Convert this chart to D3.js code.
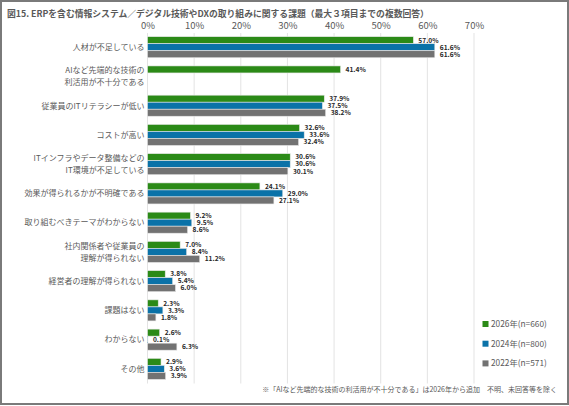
<!DOCTYPE html>
<html><head><meta charset="utf-8">
<script src="https://cdn.jsdelivr.net/npm/d3@7"></script>
<style>body{margin:0;background:#fff}svg{display:block}text{font-family:"Noto Sans CJK JP","Noto Sans",sans-serif}</style>
</head><body><svg id="c" width="569" height="406"></svg>
<script>
const title = "図15. ERPを含む情報システム／デジタル技術やDXの取り組みに関する課題（最大３項目までの複数回答）";
const categories = [
  ["人材が不足している"],
  ["AIなど先端的な技術の","利活用が不十分である"],
  ["従業員のITリテラシーが低い"],
  ["コストが高い"],
  ["ITインフラやデータ整備などの","IT環境が不足している"],
  ["効果が得られるかが不明確である"],
  ["取り組むべきテーマがわからない"],
  ["社内関係者や従業員の","理解が得られない"],
  ["経営者の理解が得られない"],
  ["課題はない"],
  ["わからない"],
  ["その他"]
];
const seriesNames = ["2026年(n=660)","2024年(n=800)","2022年(n=571)"];
const v2026 = [57.0,41.4,37.9,32.6,30.6,24.1,9.2,7.0,3.8,2.3,2.6,2.9];
const v2024 = [61.6,null,37.5,33.6,30.6,29.0,9.5,8.4,5.4,3.3,0.1,3.6];
const v2022 = [61.6,null,38.2,32.4,30.1,27.1,8.6,11.2,6.0,1.8,6.3,3.9];
const colors = ["#2b8a17","#0a72a8","#727272"];
const xTicks = [0,10,20,30,40,50,60,70];
const footnote = "※「AIなど先端的な技術の利活用が不十分である」は2026年から追加　不明、未回答等を除く";

const svg = d3.select("#c");
svg.append("rect").attr("x",1).attr("y",1).attr("width",567).attr("height",403)
  .attr("fill","#fff").attr("stroke","#7a7a7a").attr("stroke-width",2);

svg.append("text").attr("x",7).attr("y",17).attr("font-size",8.8).attr("font-weight","bold")
  .attr("fill","#595959").text(title);

const x = d3.scaleLinear().domain([0,70]).range([147.5,474]);
const idx = d3.range(categories.length);
const y = d3.scaleBand().domain(idx).range([32.6,383.5]).paddingInner(0.28).paddingOuter(0.14);
const ys = d3.scaleBand().domain([0,1,2]).range([0,y.bandwidth()]);

// gridlines
svg.append("g").selectAll("line").data(xTicks).join("line")
  .attr("x1",d=>x(d)).attr("x2",d=>x(d)).attr("y1",33).attr("y2",383.5)
  .attr("stroke","#e3e3e3").attr("stroke-width",1);

// top axis
const ax = svg.append("g").attr("transform","translate(0,33)")
  .call(d3.axisTop(x).tickValues(xTicks).tickFormat(d=>d+"%").tickSize(0).tickPadding(4));
ax.select(".domain").remove();
ax.selectAll("text").attr("font-size",9.5).attr("fill","#595959")
  .attr("font-family",'"Noto Sans CJK JP","Noto Sans",sans-serif');

// category labels
const cl = svg.append("g").selectAll("text").data(idx).join("text")
  .attr("x",144.5).attr("text-anchor","end").attr("font-size",8).attr("fill","#595959");
cl.each(function(i){
  const lines = categories[i];
  const cy = y(i)+y.bandwidth()/2;
  const t = d3.select(this);
  lines.forEach((l,k)=>{
    t.append("tspan").attr("x",144.5)
      .attr("y",cy + (k-(lines.length-1)/2)*11.7)
      .attr("dy","0.35em").text(l);
  });
});

// bars
const allVals = [v2026,v2024,v2022];
allVals.forEach((vals,s)=>{
  const data = idx.filter(i=>vals[i]!=null).map(i=>({i,v:vals[i]}));
  const g = svg.append("g");
  g.selectAll("rect").data(data).join("rect")
    .attr("x",x(0)).attr("y",d=>y(d.i)+ys(s))
    .attr("width",d=>x(d.v)-x(0)).attr("height",ys.bandwidth())
    .attr("fill",colors[s]).attr("stroke","#e8e8e8").attr("stroke-width",0.6);
  g.selectAll("text").data(data).join("text")
    .attr("x",d=>x(d.v)+5).attr("y",d=>y(d.i)+ys(s)+ys.bandwidth()/2)
    .attr("dy","0.35em").attr("font-size",6.6).attr("font-weight","bold").attr("fill","#262626")
    .text(d=>d.v.toFixed(1)+"%");
});

// legend
const lg = svg.append("g").selectAll("g").data(seriesNames).join("g")
  .attr("transform",(d,i)=>`translate(482.5,${324+i*19.7})`);
lg.append("rect").attr("x",0).attr("y",-3).attr("width",6).attr("height",6).attr("fill",(d,i)=>colors[i]);
lg.append("text").attr("x",8.5).attr("dy","0.35em").attr("font-size",8.3).attr("fill","#595959").text(d=>d);

svg.append("text").attr("x",557).attr("y",389.5).attr("dy","0.35em").attr("text-anchor","end")
  .attr("font-size",7).attr("fill","#595959").text(footnote);
</script></body></html>
